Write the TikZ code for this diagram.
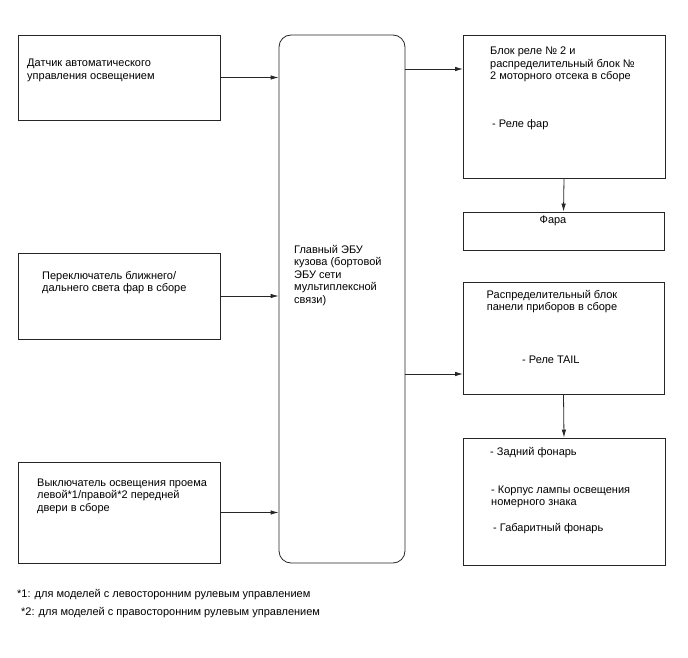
\documentclass[tikz,border=0pt]{standalone}
\usepackage{fontspec}
\setmainfont{Liberation Sans}
\usetikzlibrary{arrows.meta}
\begin{document}
\begin{tikzpicture}[x=1pt,y=-1pt,
  box/.style={draw=black!85,line width=0.8pt,inner sep=0pt},
  txt/.style={anchor=base west,inner sep=0pt,align=left,font=\fontsize{11}{12.5}\selectfont},
  ctxt/.style={anchor=base,inner sep=0pt,align=center,font=\fontsize{11}{12.5}\selectfont},
  arr/.style={draw=black!85,line width=0.8pt,-{Latex[length=8pt,width=4.5pt]}}]
\useasboundingbox (0,0) rectangle (688,658);
% boxes
\node[box,minimum width=202pt,minimum height=85pt] (s1) at (119,77.5) {};
\node[box,minimum width=202pt,minimum height=86pt] (s2) at (119,296) {};
\node[box,minimum width=202pt,minimum height=101pt] (s3) at (119,512.5) {};
\node[box,rounded corners=12pt,minimum width=126pt,minimum height=528pt] (ecu) at (342,299) {};
\node[box,minimum width=202pt,minimum height=143pt] (rb1) at (564,106.5) {};
\node[box,minimum width=201pt,minimum height=38pt] (fara) at (563.5,231) {};
\node[box,minimum width=201pt,minimum height=112pt] (rb2) at (563.5,338) {};
\node[box,minimum width=202pt,minimum height=127pt] (b3) at (564,501.5) {};
% texts (anchor at baseline of last line)
\node[txt] (t1) at (27,79.5) {Датчик автоматического\\управления освещением};
\node[txt] (t2) at (42,291.5) {Переключатель ближнего/\\дальнего света фар в сборе};
\node[txt] (t3) at (37,511) {Выключатель освещения проема\\левой*1/правой*2 передней\\двери в сборе};
\node[txt] (tecu) at (294,303) {Главный ЭБУ\\кузова (бортовой\\ЭБУ сети\\мультиплексной\\связи)};
\node[txt] (trb1) at (490,80) {Блок реле № 2 и\\распределительный блок №\\2 моторного отсека в сборе};
\node[txt] (trb1b) at (492,128) {- Реле фар};
\node[ctxt] (tfara) at (553,223) {Фара};
\node[ctxt] (trb2) at (552,310.5) {Распределительный блок\\панели приборов в сборе};
\node[txt] (trb2b) at (522,363) {- Реле TAIL};
\node[txt] (tb3a) at (490,455) {- Задний фонарь};
\node[txt] (tb3b) at (491,505.5) {- Корпус лампы освещения\\номерного знака};
\node[txt] (tb3c) at (493,531) {- Габаритный фонарь};
\node[txt] (fn1) at (17,597) {*1: для моделей с левосторонним рулевым управлением};
\node[txt] (fn2) at (21,615) {*2: для моделей с правосторонним рулевым управлением};
% connectors
\coordinate (p1) at (463,69);
\coordinate (p2) at (463,374);
\draw[arr] (s1.east) -- (s1.east -| ecu.west);
\draw[arr] (s2.east) -- (s2.east -| ecu.west);
\draw[arr] (s3.east) -- (s3.east -| ecu.west);
\draw[arr] (p1 -| ecu.east) -- (p1);
\draw[arr] (p2 -| ecu.east) -- (p2);
\draw[arr] (rb1.south) -- (fara.north);
\draw[arr] (rb2.south) -- (b3.north);
\end{tikzpicture}
\end{document}
